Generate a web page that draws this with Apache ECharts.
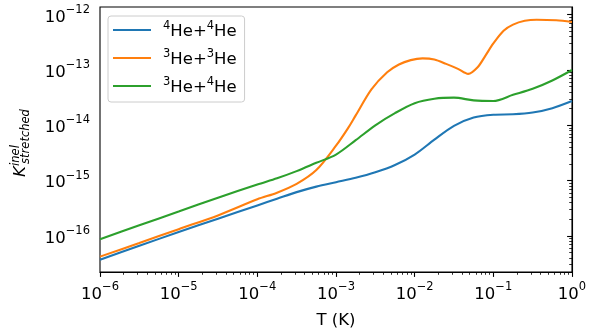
<!DOCTYPE html>
<html>
<head>
<meta charset="utf-8">
<script src="https://cdn.jsdelivr.net/npm/echarts@6/dist/echarts.min.js"></script>
<style>
  html, body { margin: 0; padding: 0; background: #fff; }
  #chart { width: 596px; height: 334px; }
</style>
</head>
<body>
<div id="chart"></div>
<script>
// temperatures (K) shared by 4He+4He and 3He+4He
const tempGrid = [1e-6, 3.16e-6, 1e-5, 3.16e-5, 1e-4, 1.78e-4, 3.16e-4, 5.62e-4, 1e-3, 1.78e-3,
  3.16e-3, 5.62e-3, 1e-2, 1.78e-2, 3.16e-2, 5.62e-2, 0.1, 0.178, 0.316, 0.562, 1];
const k44 = [3.7e-17, 6.6e-17, 1.17e-16, 2.04e-16, 3.55e-16, 4.68e-16, 6.17e-16, 7.76e-16, 9.33e-16, 1.12e-15,
  1.41e-15, 1.91e-15, 2.95e-15, 5.5e-15, 9.77e-15, 1.38e-14, 1.55e-14, 1.58e-14, 1.7e-14, 2.04e-14, 2.75e-14];
const k34 = [8.7e-17, 1.55e-16, 2.75e-16, 4.9e-16, 8.5e-16, 1.1e-15, 1.48e-15, 2.09e-15, 2.95e-15, 5.37e-15,
  1e-14, 1.66e-14, 2.51e-14, 3.02e-14, 3.16e-14, 2.82e-14, 2.75e-14, 3.55e-14, 4.57e-14, 6.46e-14, 1e-13];

// 3He+3He has more structure, own temperature list
const tempHe33 = [1e-6, 3.16e-6, 1e-5, 3.16e-5, 1e-4, 1.78e-4, 3.16e-4, 5.62e-4, 1e-3, 1.41e-3, 1.78e-3,
  2.82e-3, 4.47e-3, 6.31e-3, 8.91e-3, 1.26e-2, 1.78e-2, 2.51e-2, 3.55e-2, 4.79e-2, 6.31e-2, 7.94e-2,
  0.1, 0.135, 0.178, 0.251, 0.355, 0.631, 1];
const k33 = [4.2e-17, 7.4e-17, 1.32e-16, 2.34e-16, 4.57e-16, 6.03e-16, 8.7e-16, 1.55e-15, 4.27e-15, 8.7e-15, 1.51e-14,
  4.47e-14, 9.12e-14, 1.26e-13, 1.51e-13, 1.62e-13, 1.55e-13, 1.29e-13, 1.05e-13, 8.5e-14, 1.12e-13, 1.82e-13,
  3.02e-13, 5.13e-13, 6.61e-13, 7.76e-13, 8.13e-13, 7.94e-13, 7.41e-13];

const seriesNames = ['4He+4He', '3He+3He', '3He+4He'];
const legendIso = { '4He+4He': ['4', '4'], '3He+3He': ['3', '3'], '3He+4He': ['3', '4'] };
const colors = ['#1f77b4', '#ff7f0e', '#2ca02c'];

// axis decades (log10)
const xDecades = [-6, -5, -4, -3, -2, -1, 0];
const yDecades = [-16, -15, -14, -13, -12];
const xMin = -6, xMax = 0;
const yMin = -16.655, yMax = -11.86;

function minorTicks(lo, hi) {
  let out = [];
  for (let n = Math.floor(lo); n < Math.ceil(hi); n++) {
    for (let k = 2; k <= 9; k++) {
      let v = n + Math.log10(k);
      if (v > lo && v < hi) out.push(v);
    }
  }
  return out;
}

function toLog(ts, ks) {
  return ts.map((t, i) => [Math.log10(t), Math.log10(ks[i])]);
}

function powLabel(v) {
  let e = Math.round(v);
  let s = e < 0 ? '\u2212' + (-e) : '' + e;
  return '{b|10}{s|' + s + '}';
}

const font = 'DejaVu Sans';
const labelRich = {
  b: { fontSize: 16.5, lineHeight: 22, color: '#000', fontFamily: font, verticalAlign: 'bottom' },
  s: { fontSize: 11.5, lineHeight: 12, color: '#000', fontFamily: font, verticalAlign: 'top' }
};

let chart = echarts.init(document.getElementById('chart'), null, { renderer: 'canvas' });

let option = {
  animation: false,
  grid: {
    left: 100, right: 24, top: 7, bottom: 55,
    show: true, borderColor: '#000', borderWidth: 1.1, backgroundColor: 'transparent'
  },
  legend: {
    orient: 'vertical',
    left: 108, top: 16,
    padding: [4, 8, 6, 5],
    icon: 'rect',
    itemWidth: 38, itemHeight: 2.1, itemGap: 8,
    backgroundColor: 'rgba(255,255,255,0.8)',
    borderColor: '#cccccc', borderWidth: 1, borderRadius: 3,
    data: seriesNames,
    formatter: function (name) {
      let iso = legendIso[name];
      return '{g|}{s|' + iso[0] + '}{b|He+}{s|' + iso[1] + '}{b|He}';
    },
    textStyle: {
      rich: {
        g: { width: 7 },
        b: { fontSize: 16.5, lineHeight: 20, color: '#000', fontFamily: font, verticalAlign: 'bottom' },
        s: { fontSize: 11.5, lineHeight: 11, color: '#000', fontFamily: font, verticalAlign: 'top' }
      }
    }
  },
  xAxis: [
    {
      type: 'value', min: xMin, max: xMax,
      name: 'T (K)', nameLocation: 'middle', nameGap: 40,
      nameTextStyle: { fontSize: 16.5, color: '#000', fontFamily: font },
      axisLine: { show: true, lineStyle: { color: '#000', width: 1.1 } },
      axisTick: { show: true, length: 4.9, lineStyle: { color: '#000', width: 1.1 }, customValues: xDecades },
      axisLabel: { customValues: xDecades, formatter: powLabel, margin: 9, rich: labelRich },
      splitLine: { show: false }
    },
    {
      type: 'value', min: xMin, max: xMax, position: 'bottom',
      axisLine: { show: false },
      axisTick: { show: true, length: 2.8, lineStyle: { color: '#000', width: 0.8 }, customValues: minorTicks(xMin, xMax) },
      axisLabel: { show: false },
      splitLine: { show: false }
    }
  ],
  yAxis: [
    {
      type: 'value', min: yMin, max: yMax,
      axisLine: { show: true, lineStyle: { color: '#000', width: 1.1 } },
      axisTick: { show: true, length: 4.9, lineStyle: { color: '#000', width: 1.1 }, customValues: yDecades },
      axisLabel: { customValues: yDecades, formatter: powLabel, margin: 10, rich: labelRich },
      splitLine: { show: false }
    },
    {
      type: 'value', min: yMin, max: yMax, position: 'left',
      axisLine: { show: false },
      axisTick: { show: true, length: 2.8, lineStyle: { color: '#000', width: 0.8 }, customValues: minorTicks(yMin, yMax) },
      axisLabel: { show: false },
      splitLine: { show: false }
    }
  ],
  graphic: [
    { type: 'text', x: 21, y: 171.5, rotation: Math.PI / 2,
      style: { text: 'K', font: 'italic 16.5px "DejaVu Sans"', fill: '#000', textAlign: 'center', textVerticalAlign: 'middle', align: 'center', verticalAlign: 'middle' } },
    { type: 'text', x: 16, y: 155.5, rotation: Math.PI / 2,
      style: { text: 'inel', font: 'italic 11.5px "DejaVu Sans"', fill: '#000', textAlign: 'center', textVerticalAlign: 'middle', align: 'center', verticalAlign: 'middle' } },
    { type: 'text', x: 26, y: 136.5, rotation: Math.PI / 2,
      style: { text: 'stretched', font: 'italic 11.5px "DejaVu Sans"', fill: '#000', textAlign: 'center', textVerticalAlign: 'middle', align: 'center', verticalAlign: 'middle' } }
  ],
  series: [
    { name: seriesNames[0], type: 'line', data: toLog(tempGrid, k44), symbol: 'none', smooth: 0.3,
      itemStyle: { color: colors[0] }, lineStyle: { color: colors[0], width: 2.1 } },
    { name: seriesNames[1], type: 'line', data: toLog(tempHe33, k33), symbol: 'none', smooth: 0.3,
      itemStyle: { color: colors[1] }, lineStyle: { color: colors[1], width: 2.1 } },
    { name: seriesNames[2], type: 'line', data: toLog(tempGrid, k34), symbol: 'none', smooth: 0.3,
      itemStyle: { color: colors[2] }, lineStyle: { color: colors[2], width: 2.1 } }
  ]
};

chart.setOption(option);
</script>
</body>
</html>
